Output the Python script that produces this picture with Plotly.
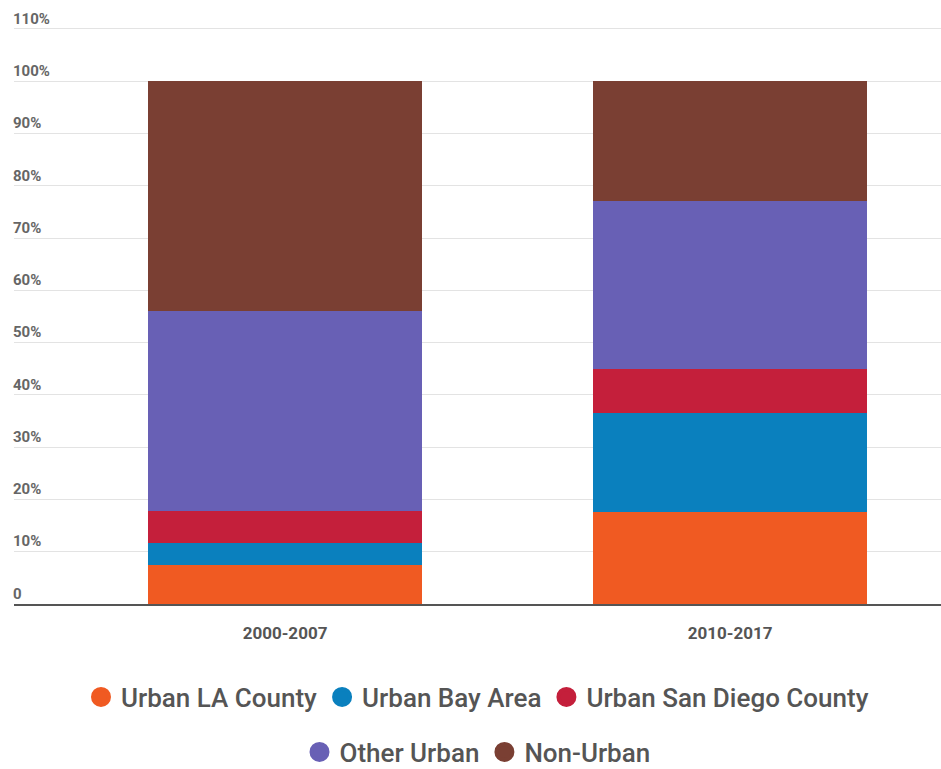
import plotly.graph_objects as go

# Share of growth by region, per period (percent)
periods = ["2000-2007", "2010-2017"]
series_names = ["Urban LA County", "Urban Bay Area", "Urban San Diego County",
                "Other Urban", "Non-Urban"]
urban_la = [7.5, 17.6]
urban_bay = [4.2, 19.0]
urban_sd = [6.1, 8.4]
other_urban = [38.3, 32.0]
non_urban = [43.9, 23.0]

y_ticks = [0, 10, 20, 30, 40, 50, 60, 70, 80, 90, 100, 110]
y_tick_labels = ["0", "10%", "20%", "30%", "40%", "50%", "60%",
                 "70%", "80%", "90%", "100%", "110%"]

colors = ["#F05A22", "#0A80BE", "#C41F3B", "#6860B5", "#7A3F33"]
values = [urban_la, urban_bay, urban_sd, other_urban, non_urban]

fig = go.Figure()

for name, vals, col in zip(series_names, values, colors):
    fig.add_trace(go.Bar(
        x=[0, 1], y=vals, name=name, marker_color=col,
        marker_line_width=0, width=0.616, showlegend=False,
        hovertemplate=name + ": %{y:.1f}%<extra></extra>",
    ))

# Round legend swatches, split across two centred rows
for i, (name, col) in enumerate(zip(series_names, colors)):
    fig.add_trace(go.Scatter(
        x=[None], y=[None], mode="markers", name=name,
        marker=dict(symbol="circle", size=22, color=col,
                    line=dict(width=4, color=col)),
        legend="legend" if i < 3 else "legend2",
    ))

legend_style = dict(
    orientation="h", xanchor="center", yanchor="middle", x=0.5,
    yref="container",
    font=dict(family="Roboto", size=26, color="#555555", weight=500),
    itemsizing="trace", bgcolor="rgba(0,0,0,0)", tracegroupgap=0,
    traceorder="normal",
)

fig.update_layout(
    barmode="stack",
    width=941, height=769,
    margin=dict(l=14, r=0, t=8, b=165, autoexpand=False),
    plot_bgcolor="white", paper_bgcolor="white",
    font=dict(family="Roboto", color="#666666"),
    xaxis=dict(
        tickmode="array", tickvals=[0, 1], ticktext=periods,
        range=[-0.609, 1.474],
        showgrid=False, zeroline=False,
        showline=True, linecolor="#555555", linewidth=2,
        ticks="outside", ticklen=13, tickcolor="rgba(0,0,0,0)",
        tickfont=dict(family="Roboto", size=17, color="#555555", weight="bold"),
        fixedrange=True,
    ),
    yaxis=dict(
        range=[0, 114], tickmode="array", tickvals=y_ticks,
        ticktext=y_tick_labels, ticklabelposition="inside top",
        ticklabelstandoff=-4,
        showgrid=True, gridcolor="#e3e3e3", gridwidth=1,
        zeroline=False, showline=False,
        tickfont=dict(family="Roboto", size=15, color="#666666", weight="bold"),
        fixedrange=True,
    ),
    legend=dict(y=0.0936, **legend_style),
    legend2=dict(y=0.0221, **legend_style),
    bargap=0.384,
)

fig.write_html("out.html")
